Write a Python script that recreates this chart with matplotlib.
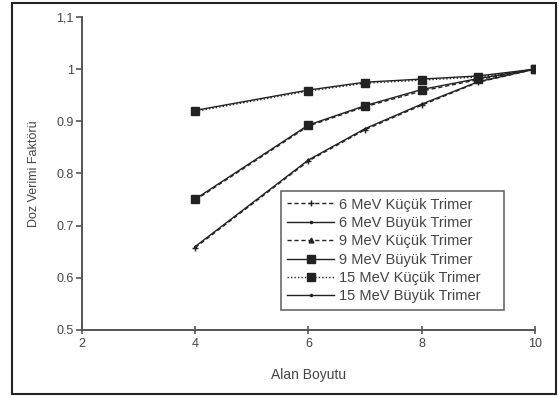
import matplotlib
matplotlib.use("Agg")
import matplotlib.pyplot as plt
from matplotlib.patches import Rectangle

plt.rcParams['font.family'] = ['Liberation Sans', 'DejaVu Sans']

alan = [4, 6, 7, 8, 9, 10]
mev6_kucuk = [0.658, 0.824, 0.884, 0.931, 0.975, 1.0]
mev6_buyuk = [0.660, 0.826, 0.886, 0.933, 0.976, 1.0]
mev9_kucuk = [0.749, 0.891, 0.928, 0.958, 0.980, 1.0]
mev9_buyuk = [0.751, 0.893, 0.930, 0.961, 0.982, 1.0]
mev15_kucuk = [0.919, 0.958, 0.973, 0.979, 0.985, 1.0]
mev15_buyuk = [0.921, 0.960, 0.975, 0.981, 0.987, 1.0]

labels = ["6 MeV Küçük Trimer", "6 MeV Büyük Trimer", "9 MeV Küçük Trimer",
          "9 MeV Büyük Trimer", "15 MeV Küçük Trimer", "15 MeV Büyük Trimer"]
yticks = [0.5, 0.6, 0.7, 0.8, 0.9, 1.0, 1.1]
ytick_labels = ["0.5", "0.6", "0.7", "0.8", "0.9", "1", "1,1"]
xticks = [2, 4, 6, 8, 10]

fig = plt.figure(figsize=(5.59, 3.97), dpi=100)
ax = fig.add_axes([0.1467, 0.1688, 0.8103, 0.7884])

lc = '#222222'
ax.plot(alan, mev6_kucuk, linestyle=(0, (3, 2)), color=lc, lw=1.0, marker='+', ms=4, mew=1.0, label=labels[0])
ax.plot(alan, mev6_buyuk, linestyle='-', color=lc, lw=1.0, marker='.', ms=3, label=labels[1])
ax.plot(alan, mev9_kucuk, linestyle=(0, (3, 2)), color=lc, lw=1.0, marker='^', ms=3.5, label=labels[2])
ax.plot(alan, mev9_buyuk, linestyle='-', color=lc, lw=1.0, marker='s', ms=5.5, label=labels[3])
ax.plot(alan, mev15_kucuk, linestyle=(0, (1, 1.5)), color=lc, lw=1.0, marker='s', ms=5.5, label=labels[4])
ax.plot(alan, mev15_buyuk, linestyle='-', color=lc, lw=1.0, marker='.', ms=3, label=labels[5])

ax.set_xlim(2, 10)
ax.set_ylim(0.5, 1.1)
ax.set_xticks(xticks)
ax.set_yticks(yticks)
ax.set_yticklabels(ytick_labels)

for s in ['top', 'right']:
    ax.spines[s].set_visible(False)
for s in ['left', 'bottom']:
    ax.spines[s].set_color('#555555')
    ax.spines[s].set_linewidth(1.4)

ax.tick_params(axis='y', direction='out', length=4, width=1.2, colors='#555555', labelsize=9, pad=2)
ax.tick_params(axis='x', direction='inout', length=6, width=1.2, colors='#555555', labelsize=9, pad=3)
for t in ax.get_xticklabels() + ax.get_yticklabels():
    t.set_color('#444444')

ax.set_xlabel("Alan Boyutu", fontsize=10, color='#444444', labelpad=13)
ax.set_ylabel("Doz Verimi Faktörü", fontsize=9, color='#444444', labelpad=12)

leg = ax.legend(loc='lower left', bbox_to_anchor=(0.439, 0.064, 0.493, 0.37), mode='expand',
                fontsize=10.5, frameon=True, fancybox=False, edgecolor='#444444',
                borderaxespad=0, labelspacing=0.3, handlelength=3.2, handletextpad=0.35,
                borderpad=0.45)
leg.get_frame().set_linewidth(1.2)
for t in leg.get_texts():
    t.set_color('#444444')

fig.patches.append(Rectangle((12/559, 3/397), (556-12)/559, (394-3)/397,
                             transform=fig.transFigure, fill=False,
                             edgecolor='#222222', linewidth=1.5))

fig.savefig("out.png", dpi=100)
